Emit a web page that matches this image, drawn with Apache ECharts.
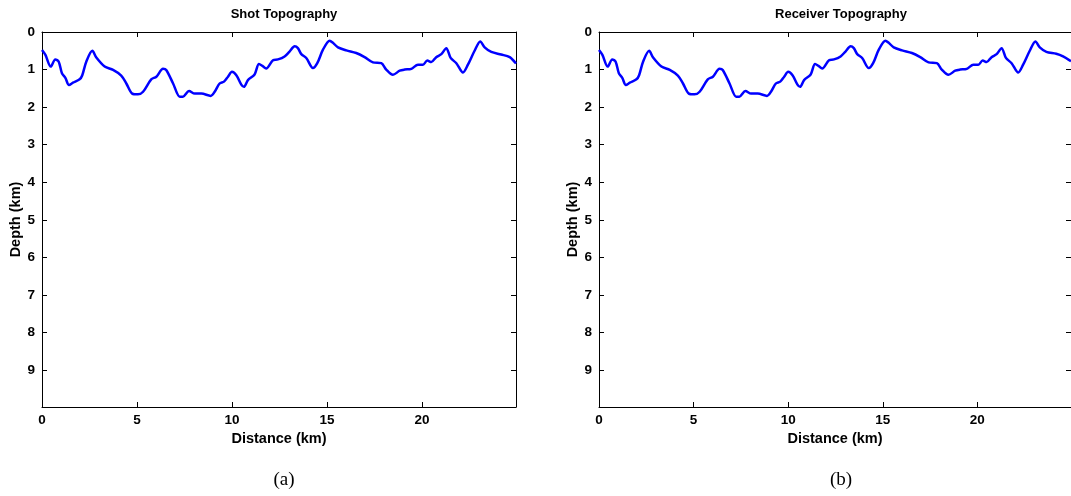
<!DOCTYPE html>
<html>
<head>
<meta charset="utf-8">
<script src="https://cdn.jsdelivr.net/npm/echarts@6/dist/echarts.min.js"></script>
<style>
  html, body { margin: 0; padding: 0; background: #fff; }
  #chart { width: 1071px; height: 496px; }
</style>
</head>
<body>
<div id="chart"></div>
<script>
// distance (km) / depth (km)
const shotDistance = [0, 0.18, 0.46, 0.7, 0.88, 1.05, 1.23, 1.42, 1.63, 1.98, 2.12, 2.33, 2.65, 2.86, 3.3, 3.74, 4.17, 4.44, 4.75, 5.05, 5.32, 5.75, 6.02, 6.37, 6.54, 6.9, 7.25, 7.42, 7.74, 8.04, 8.39, 8.88, 9.09, 9.35, 9.58, 9.79, 10.0, 10.23, 10.49, 10.63, 10.84, 11.19, 11.42, 11.6, 11.8, 12.16, 12.42, 12.77, 13.03, 13.3, 13.47, 13.65, 13.91, 14.26, 14.49, 14.79, 15.14, 15.32, 15.58, 16.02, 16.54, 16.98, 17.42, 17.86, 18.12, 18.47, 18.83, 19.09, 19.44, 19.79, 20.05, 20.28, 20.49, 20.75, 21.02, 21.28, 21.51, 21.81, 22.16, 22.42, 22.77, 23.07, 23.3, 23.65, 24.17, 24.62, 24.95];
const shotDepth = [0.48, 0.61, 0.92, 0.73, 0.79, 1.1, 1.22, 1.41, 1.35, 1.26, 1.15, 0.79, 0.5, 0.68, 0.92, 1.01, 1.16, 1.37, 1.64, 1.66, 1.59, 1.26, 1.19, 0.98, 1.01, 1.37, 1.72, 1.72, 1.57, 1.64, 1.64, 1.7, 1.59, 1.37, 1.32, 1.19, 1.06, 1.15, 1.4, 1.46, 1.28, 1.13, 0.85, 0.9, 0.97, 0.75, 0.73, 0.65, 0.52, 0.38, 0.43, 0.59, 0.69, 0.96, 0.83, 0.47, 0.23, 0.29, 0.41, 0.49, 0.56, 0.67, 0.81, 0.83, 1.0, 1.14, 1.03, 1.0, 0.98, 0.87, 0.87, 0.76, 0.8, 0.67, 0.59, 0.43, 0.69, 0.83, 1.08, 0.87, 0.5, 0.25, 0.41, 0.53, 0.6, 0.67, 0.84];

const receiverDistance = [0, 0.18, 0.46, 0.7, 0.88, 1.05, 1.23, 1.42, 1.63, 1.98, 2.12, 2.33, 2.65, 2.86, 3.3, 3.74, 4.17, 4.44, 4.75, 5.05, 5.32, 5.75, 6.02, 6.37, 6.54, 6.9, 7.25, 7.42, 7.74, 8.04, 8.39, 8.88, 9.09, 9.35, 9.58, 9.79, 10.0, 10.23, 10.49, 10.63, 10.84, 11.19, 11.42, 11.6, 11.8, 12.16, 12.42, 12.77, 13.03, 13.3, 13.47, 13.65, 13.91, 14.26, 14.49, 14.79, 15.14, 15.32, 15.58, 16.02, 16.54, 16.98, 17.42, 17.86, 18.12, 18.47, 18.83, 19.09, 19.44, 19.79, 20.05, 20.28, 20.49, 20.75, 21.02, 21.28, 21.51, 21.81, 22.16, 22.42, 22.77, 23.07, 23.3, 23.65, 24.17, 24.53, 24.95];
const receiverDepth = [0.48, 0.61, 0.92, 0.73, 0.79, 1.1, 1.22, 1.41, 1.35, 1.26, 1.15, 0.79, 0.5, 0.68, 0.92, 1.01, 1.16, 1.37, 1.64, 1.66, 1.59, 1.26, 1.19, 0.98, 1.01, 1.37, 1.72, 1.72, 1.57, 1.64, 1.64, 1.7, 1.59, 1.37, 1.32, 1.19, 1.06, 1.15, 1.4, 1.46, 1.28, 1.13, 0.85, 0.9, 0.97, 0.75, 0.73, 0.65, 0.52, 0.38, 0.43, 0.59, 0.69, 0.96, 0.83, 0.47, 0.23, 0.29, 0.41, 0.49, 0.56, 0.67, 0.81, 0.83, 1.0, 1.14, 1.03, 1.0, 0.98, 0.87, 0.87, 0.76, 0.8, 0.67, 0.59, 0.43, 0.69, 0.83, 1.08, 0.87, 0.5, 0.25, 0.41, 0.53, 0.58, 0.65, 0.78];

const panelTitles = ["Shot Topography", "Receiver Topography"];
const panelCaptions = ["(a)", "(b)"];
const xTickStep = 5;
const yTickStep = 1;
const xMax = 24.95;
const yMax = 9.98;

const chart = echarts.init(document.getElementById("chart"), null, { renderer: "canvas" });

const labelFont = { fontFamily: "Liberation Sans, Arial, sans-serif", fontWeight: "bold", fontSize: 13.5, color: "#000" };
const nameFont = { ...labelFont, fontSize: 14.5 };
const axisLine = { show: true, onZero: false, lineStyle: { color: "#000", width: 1 } };
const tickIn = { show: true, inside: true, length: 5, lineStyle: { color: "#000" } };

const grids = [
  { left: 42, top: 32, width: 474, height: 375 },
  { left: 599, top: 32, width: 474, height: 375 },
];

const xAxes = [];
const yAxes = [];
const series = [];
const titles = [];
const panels = [
  [shotDistance, shotDepth],
  [receiverDistance, receiverDepth],
];

grids.forEach((g, i) => {
  const centre = g.left + g.width / 2;
  xAxes.push({
    gridIndex: i, type: "value", min: 0, max: xMax, interval: xTickStep, position: "bottom",
    axisLine, axisTick: tickIn, splitLine: { show: false },
    axisLabel: { ...labelFont, margin: 6, showMaxLabel: false, formatter: (v) => (v % xTickStep === 0 ? String(v) : "") },
    name: "Distance (km)", nameLocation: "middle", nameGap: 22, nameTextStyle: { ...nameFont },
  });
  xAxes.push({
    gridIndex: i, type: "value", min: 0, max: xMax, interval: xTickStep, position: "top",
    axisLine, axisTick: tickIn, axisLabel: { show: false }, splitLine: { show: false },
  });
  yAxes.push({
    gridIndex: i, type: "value", min: 0, max: yMax, interval: yTickStep, inverse: true, position: "left",
    axisLine, axisTick: tickIn, splitLine: { show: false },
    axisLabel: { ...labelFont, margin: 7, formatter: (v) => (Number.isInteger(v) ? String(v) : "") },
    name: "Depth (km)", nameLocation: "middle", nameGap: 18, nameRotate: 90, nameTextStyle: { ...nameFont },
  });
  yAxes.push({
    gridIndex: i, type: "value", min: 0, max: yMax, interval: yTickStep, inverse: true, position: "right",
    axisLine, axisTick: tickIn, axisLabel: { show: false }, splitLine: { show: false },
  });
  const [xs, ys] = panels[i];
  series.push({
    type: "line", xAxisIndex: i * 2, yAxisIndex: i * 2,
    data: xs.map((x, k) => [x, ys[k]]),
    showSymbol: false, smooth: 0.3, clip: true,
    lineStyle: { color: "#0000ff", width: 2.5 },
  });
  titles.push({
    text: panelTitles[i], left: centre, top: 3, textAlign: "center",
    textStyle: { ...labelFont, fontSize: 13 },
  });
  titles.push({
    text: panelCaptions[i], left: centre, top: 466, textAlign: "center",
    textStyle: { fontFamily: "Liberation Serif, Times New Roman, serif", fontWeight: "normal", fontSize: 19, color: "#000" },
  });
});

chart.setOption({
  animation: false,
  backgroundColor: "#fff",
  title: titles,
  grid: grids,
  xAxis: xAxes,
  yAxis: yAxes,
  series,
});
</script>
</body>
</html>
